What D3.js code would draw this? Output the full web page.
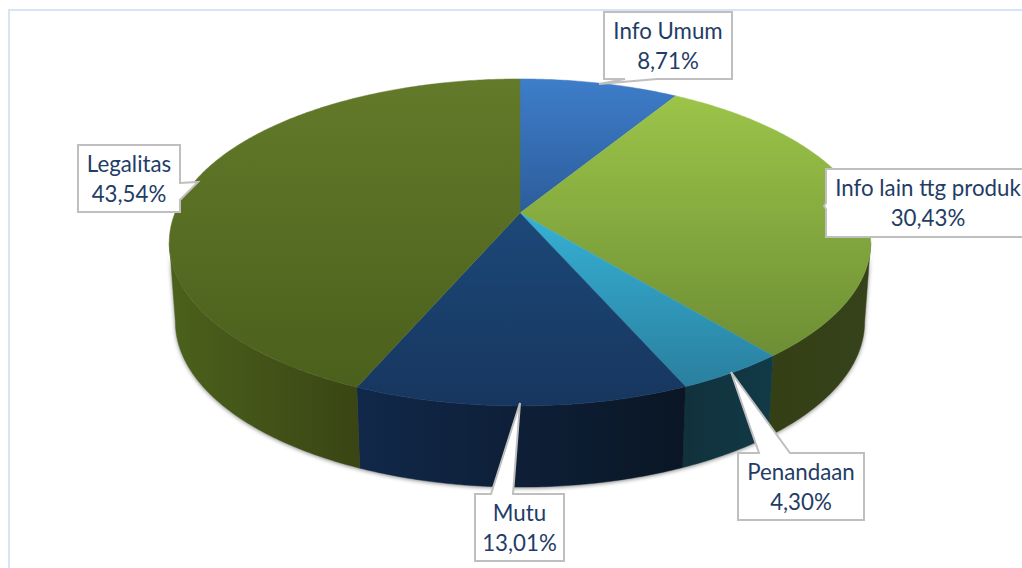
<!DOCTYPE html>
<html>
<head>
<meta charset="utf-8">
<script src="https://cdn.jsdelivr.net/npm/d3@7"></script>
<style>
  html, body { margin: 0; background: #fff; overflow: hidden; }
  text { font-family: Lato, "Open Sans", sans-serif; }
</style>
</head>
<body>
<svg width="1022" height="568"></svg>
<script>
// Chart data
const categories = ["Info Umum", "Info lain ttg produk", "Penandaan", "Mutu", "Legalitas"];
const shares = [8.71, 30.43, 4.30, 13.01, 43.54];

// Colours per slice: top face (light, dark) and side wall (left, right)
const topLight = ["#3e7dca", "#9cc449", "#35b1d5", "#1c4878", "#637a2a"];
const topDark = ["#2c5d9b", "#6d8e34", "#2a7f9e", "#17365f", "#4a601c"];
const sideLeft = ["#2c5d9b", "#343f15", "#11313c", "#11284a", "#4c611c"];
const sideRight = ["#2c5d9b", "#36421a", "#113a47", "#0a1624", "#394514"];

// Label boxes, same order as categories: box corners and pointer
const boxes = [
  { x0: 604, x1: 732, y0: 12, y1: 79, side: "bottom", b0: 625, b1: 657, tip: [599, 84] },
  { x0: 826, x1: 1040, y0: 169, y1: 237, side: "left", b0: 203, b1: 209, tip: [824, 206] },
  { x0: 738, x1: 864, y0: 453, y1: 520, side: "top", b0: 759, b1: 790, tip: [731, 372] },
  { x0: 475, x1: 564, y0: 494, y1: 561, side: "top", b0: 491, b1: 513, tip: [520, 403] },
  { x0: 78, x1: 180, y0: 145, y1: 212, side: "right", b0: 183, b1: 200, tip: [198, 182] }
];

const cx = 520;
const k = 0.18; // perspective strength
const topPlane = { y: 213, a: 158.2, b: 345 };
const bottomPlane = { y: 292, a: 160, b: 339 };

// angle clockwise from 12 o'clock -> screen point on a plane
function project(plane, t) {
  const u = Math.sin(t), v = -Math.cos(t), d = 1 - k * v;
  return [cx + plane.b * u / d, plane.y + plane.a * v / d];
}

function arcSamples(plane, t0, t1) {
  const n = Math.max(2, Math.ceil((t1 - t0) / 0.01));
  return d3.range(n + 1).map(i => project(plane, t0 + (t1 - t0) * i / n));
}

const svg = d3.select("svg");
const defs = svg.append("defs");
const line = d3.line();

const slices = d3.pie().sort(null).value(d => d)(shares);
const fmt = d3.formatLocale({ decimal: ",", thousands: ".", grouping: [3], currency: ["", ""] }).format(".2f");

// Frame
svg.append("path")
  .attr("d", "M9,568V10H1022")
  .attr("fill", "none")
  .attr("stroke", "#d6e4f3")
  .attr("stroke-width", 2);

// Gradients
slices.forEach((s, i) => {
  const g = defs.append("linearGradient").attr("id", "top" + i)
    .attr("x1", 0).attr("y1", 0).attr("x2", 0).attr("y2", 1);
  g.append("stop").attr("offset", 0).attr("stop-color", topLight[i]);
  g.append("stop").attr("offset", 1).attr("stop-color", topDark[i]);
  const h = defs.append("linearGradient").attr("id", "side" + i)
    .attr("x1", 0).attr("y1", 0).attr("x2", 1).attr("y2", 0);
  h.append("stop").attr("offset", 0).attr("stop-color", sideLeft[i]);
  h.append("stop").attr("offset", 1).attr("stop-color", sideRight[i]);
});

const blur = defs.append("filter").attr("id", "shadow")
  .attr("x", "-5%").attr("y", "-5%").attr("width", "110%").attr("height", "110%");
blur.append("feGaussianBlur").attr("stdDeviation", 2);

// Side wall is only visible between the two silhouette angles
const frontStart = Math.acos(-k);
const frontEnd = 2 * Math.PI - frontStart;
const wall = (t0, t1) => line(arcSamples(topPlane, t0, t1)
  .concat(arcSamples(bottomPlane, t0, t1).reverse())) + "Z";

// Soft shadow under the wall
svg.append("path")
  .attr("d", wall(frontStart, frontEnd))
  .attr("fill", "#555")
  .attr("opacity", 0.75)
  .attr("transform", "translate(0,1)")
  .attr("filter", "url(#shadow)");

svg.append("g").selectAll("path")
  .data(slices.filter(s => s.endAngle > frontStart && s.startAngle < frontEnd))
  .join("path")
  .attr("d", s => wall(Math.max(s.startAngle, frontStart), Math.min(s.endAngle, frontEnd)))
  .attr("fill", s => `url(#side${s.index})`)
  .attr("stroke", s => `url(#side${s.index})`)
  .attr("stroke-width", 0.4);

// Top faces, thin stroke closes the seams between slices
svg.append("g").selectAll("path")
  .data(slices)
  .join("path")
  .attr("d", s => line([[cx, topPlane.y]].concat(arcSamples(topPlane, s.startAngle, s.endAngle))) + "Z")
  .attr("fill", s => `url(#top${s.index})`)
  .attr("stroke", s => `url(#top${s.index})`)
  .attr("stroke-width", 0.5);

// Callout outline: box with the pointer cut into one side
function calloutPath(b) {
  const p = [[b.x0, b.y0]];
  if (b.side === "top") p.push([b.b0, b.y0], b.tip, [b.b1, b.y0]);
  p.push([b.x1, b.y0]);
  if (b.side === "right") p.push([b.x1, b.b0], b.tip, [b.x1, b.b1]);
  p.push([b.x1, b.y1]);
  if (b.side === "bottom") p.push([b.b1, b.y1], b.tip, [b.b0, b.y1]);
  p.push([b.x0, b.y1]);
  if (b.side === "left") p.push([b.x0, b.b1], b.tip, [b.x0, b.b0]);
  return line(p) + "Z";
}

const labels = svg.append("g").selectAll("g")
  .data(slices)
  .join("g");

labels.append("path")
  .attr("d", s => calloutPath(boxes[s.index]))
  .attr("fill", "#fff")
  .attr("stroke", "#bfbfbf")
  .attr("stroke-width", 2)
  .attr("stroke-linejoin", "miter");

labels.append("text")
  .attr("x", s => (boxes[s.index].x0 + boxes[s.index].x1) / 2 + (s.index === 1 ? -5 : 0))
  .attr("y", s => boxes[s.index].y0 + 27)
  .attr("text-anchor", "middle")
  .attr("font-size", 22.3)
  .attr("fill", "#1f3d66")
  .text(s => categories[s.index]);

labels.append("text")
  .attr("x", s => (boxes[s.index].x0 + boxes[s.index].x1) / 2 + (s.index === 1 ? -5 : 0))
  .attr("y", s => boxes[s.index].y0 + 57)
  .attr("text-anchor", "middle")
  .attr("font-size", 22.3)
  .attr("fill", "#1f3d66")
  .text(s => fmt(shares[s.index]) + "%");
</script>
</body>
</html>
